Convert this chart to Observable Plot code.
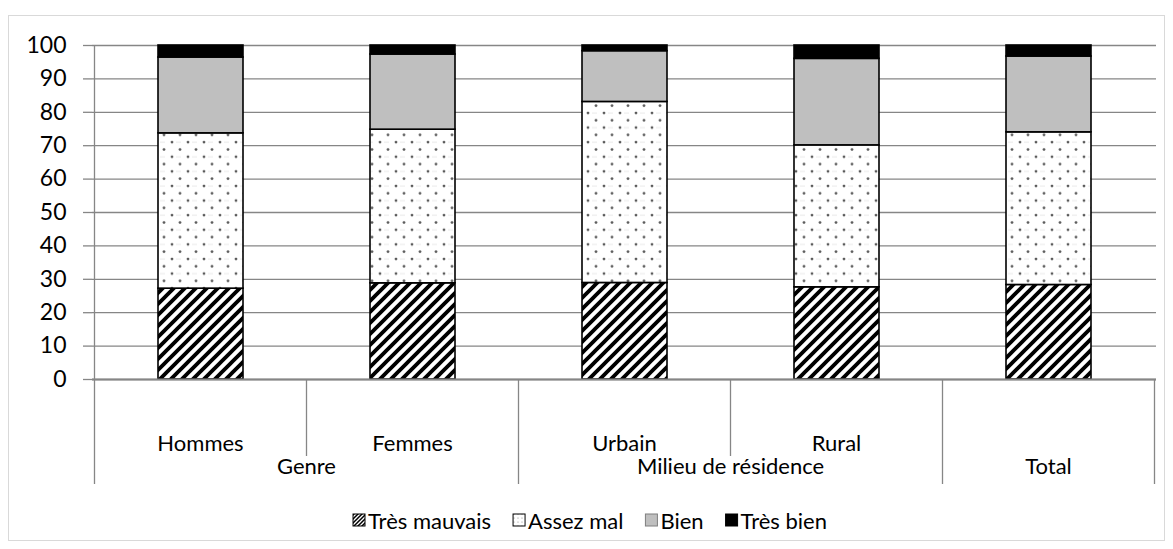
<!DOCTYPE html>
<html>
<head>
<meta charset="utf-8">
<script src="https://cdn.jsdelivr.net/npm/d3@7"></script>
<script src="https://cdn.jsdelivr.net/npm/@observablehq/plot@0.6"></script>
<style>
  html, body { margin: 0; padding: 0; background: #fff; }
  #chart svg { display: block; }
</style>
</head>
<body>
<div id="chart"></div>
<script>
// ---- data ----
const categories = ["Hommes", "Femmes", "Urbain", "Rural", "Total"];
const innerLabels = ["Hommes", "Femmes", "Urbain", "Rural", ""];
const groupOf = ["Genre", "Genre", "Milieu de résidence", "Milieu de résidence", "Total"];
const series = ["Très mauvais", "Assez mal", "Bien", "Très bien"];
const tresMauvais = [27.2, 28.8, 28.9, 27.6, 28.3];
const assezMal   = [46.5, 46.0, 54.2, 42.5, 45.7];
const bien       = [22.7, 22.5, 15.2, 25.9, 22.7];
const tresBien   = [3.6, 2.7, 1.7, 4.0, 3.3];
const yTicks = [0, 10, 20, 30, 40, 50, 60, 70, 80, 90, 100];

const valuesBySeries = [tresMauvais, assezMal, bien, tresBien];
const data = [];
series.forEach((s, si) => categories.forEach((c, ci) => data.push({cat: c, series: s, value: valuesBySeries[si][ci]})));

const fills = ["url(#hatch)", "url(#dots)", "#bfbfbf", "#000000"];
const FONT = "Lato, 'Liberation Sans', sans-serif";
const W = 1173, H = 549;
const LABEL_SIZE = 22;

const plot = Plot.plot({
  width: W, height: H,
  marginLeft: 92, marginRight: 17, marginTop: 45, marginBottom: 170,
  style: {fontFamily: FONT, fontSize: "23px", color: "black", background: "white"},
  x: {domain: categories, paddingInner: 0.6, paddingOuter: 0.3, axis: null},
  y: {domain: [0, 100], label: null},
  color: {domain: series, range: fills},
  marks: [
    Plot.gridY(yTicks, {stroke: "#868686", strokeOpacity: 1, strokeWidth: 1.3}),
    Plot.axisY(yTicks, {tickSize: 9, tickPadding: 17, fontSize: 23, stroke: "#868686", strokeOpacity: 1, strokeWidth: 1.3, label: null, fill: "black"}),
    Plot.barY(data, {x: "cat", y: "value", fill: "series", stroke: "black", strokeWidth: 1.6}),
    Plot.ruleY([0], {stroke: "#868686", strokeWidth: 2})
  ]
});
document.getElementById("chart").appendChild(plot);

const svg = d3.select(plot);
// pattern definitions
const defs = svg.insert("defs", ":first-child");
const hatch = defs.append("pattern").attr("id", "hatch").attr("patternUnits", "userSpaceOnUse")
  .attr("width", 11).attr("height", 11);
hatch.append("rect").attr("width", 11).attr("height", 11).attr("fill", "white");
hatch.append("path").attr("d", "M-2,2 L2,-2 M0,11 L11,0 M9,13 L13,9")
  .attr("stroke", "black").attr("stroke-width", 3.8);
const dots = defs.append("pattern").attr("id", "dots").attr("patternUnits", "userSpaceOnUse")
  .attr("width", 16).attr("height", 14.6);
dots.append("rect").attr("width", 16).attr("height", 14.6).attr("fill", "white");
dots.append("line").attr("x1", 0).attr("x2", 5).attr("y1", 10.8).attr("y2", 10.8).attr("stroke", "#e2e2e2").attr("stroke-width", 0.8);
dots.append("circle").attr("cx", 4).attr("cy", 3.5).attr("r", 1.4).attr("fill", "#5a5a5a");
dots.append("circle").attr("cx", 12).attr("cy", 10.8).attr("r", 1.4).attr("fill", "#5a5a5a");
const hatchL = defs.append("pattern").attr("id", "hatchL").attr("patternUnits", "userSpaceOnUse")
  .attr("width", 4).attr("height", 4);
hatchL.append("rect").attr("width", 4).attr("height", 4).attr("fill", "white");
hatchL.append("path").attr("d", "M-1,1 L1,-1 M0,4 L4,0 M3,5 L5,3").attr("stroke", "black").attr("stroke-width", 1.5);
const dotsL = defs.append("pattern").attr("id", "dotsL").attr("patternUnits", "userSpaceOnUse")
  .attr("width", 4).attr("height", 4);
dotsL.append("rect").attr("width", 4).attr("height", 4).attr("fill", "white");
dotsL.append("circle").attr("cx", 2).attr("cy", 2).attr("r", 0.6).attr("fill", "#888");

// outer chart border
svg.insert("rect", "defs + *").attr("x", 8.5).attr("y", 15.5).attr("width", W - 17).attr("height", H - 24)
  .attr("fill", "none").attr("stroke", "#d9d9d9").attr("stroke-width", 1);

// multi-level category axis using Plot's x scale
const xs = plot.scale("x");
const ys = plot.scale("y");
const step = xs.step;
const y0 = ys.apply(0);
const left = xs.apply(categories[0]) - (step - xs.bandwidth) / 2;
const bandStart = (i) => left + i * step;
const g = svg.append("g").attr("font-family", FONT).attr("font-size", LABEL_SIZE).attr("fill", "black");
const lineColor = "#868686";
const shortEnd = 456, longEnd = 484;
g.append("line").attr("x1", left).attr("x2", left).attr("y1", ys.apply(100)).attr("y2", longEnd)
  .attr("stroke", lineColor).attr("stroke-width", 1.3);
for (let i = 1; i <= categories.length; i++) {
  const isGroupEdge = i === categories.length || groupOf[i] !== groupOf[i - 1];
  g.append("line").attr("x1", bandStart(i)).attr("x2", bandStart(i)).attr("y1", y0)
    .attr("y2", isGroupEdge ? longEnd : shortEnd).attr("stroke", lineColor).attr("stroke-width", 1.3);
}
innerLabels.forEach((lab, i) => {
  if (!lab) return;
  g.append("text").attr("x", bandStart(i) + step / 2).attr("y", 442).attr("text-anchor", "middle")
    .attr("dominant-baseline", "central").text(lab);
});
const groupNames = Array.from(new Set(groupOf));
groupNames.forEach(name => {
  const idx = groupOf.map((gname, i) => gname === name ? i : -1).filter(i => i >= 0);
  const x1 = bandStart(idx[0]), x2 = bandStart(idx[idx.length - 1] + 1);
  g.append("text").attr("x", (x1 + x2) / 2).attr("y", 465).attr("text-anchor", "middle")
    .attr("dominant-baseline", "central").text(name);
});

// legend
const legendFills = ["url(#hatchL)", "url(#dotsL)", "#bfbfbf", "#000000"];
const lg = svg.append("g").attr("font-family", FONT).attr("font-size", LABEL_SIZE).attr("fill", "black")
  .attr("text-anchor", "start");
const sw = 12, gap1 = 3, gap2 = 22;
const ly = 520;
const texts = series.map(s => lg.append("text").attr("y", ly).attr("text-anchor", "start")
  .attr("dominant-baseline", "central").text(s));
const widths = texts.map(t => t.node().getComputedTextLength());
const total = widths.reduce((a, w) => a + sw + gap1 + w, 0) + gap2 * (series.length - 1);
let cx = 590 - total / 2;
series.forEach((s, i) => {
  lg.append("rect").attr("x", cx).attr("y", ly - sw / 2).attr("width", sw).attr("height", sw)
    .attr("fill", legendFills[i]).attr("stroke", i === 2 ? "#7f7f7f" : "black").attr("stroke-width", 1);
  texts[i].attr("x", cx + sw + gap1);
  cx += sw + gap1 + widths[i] + gap2;
});
</script>
</body>
</html>
